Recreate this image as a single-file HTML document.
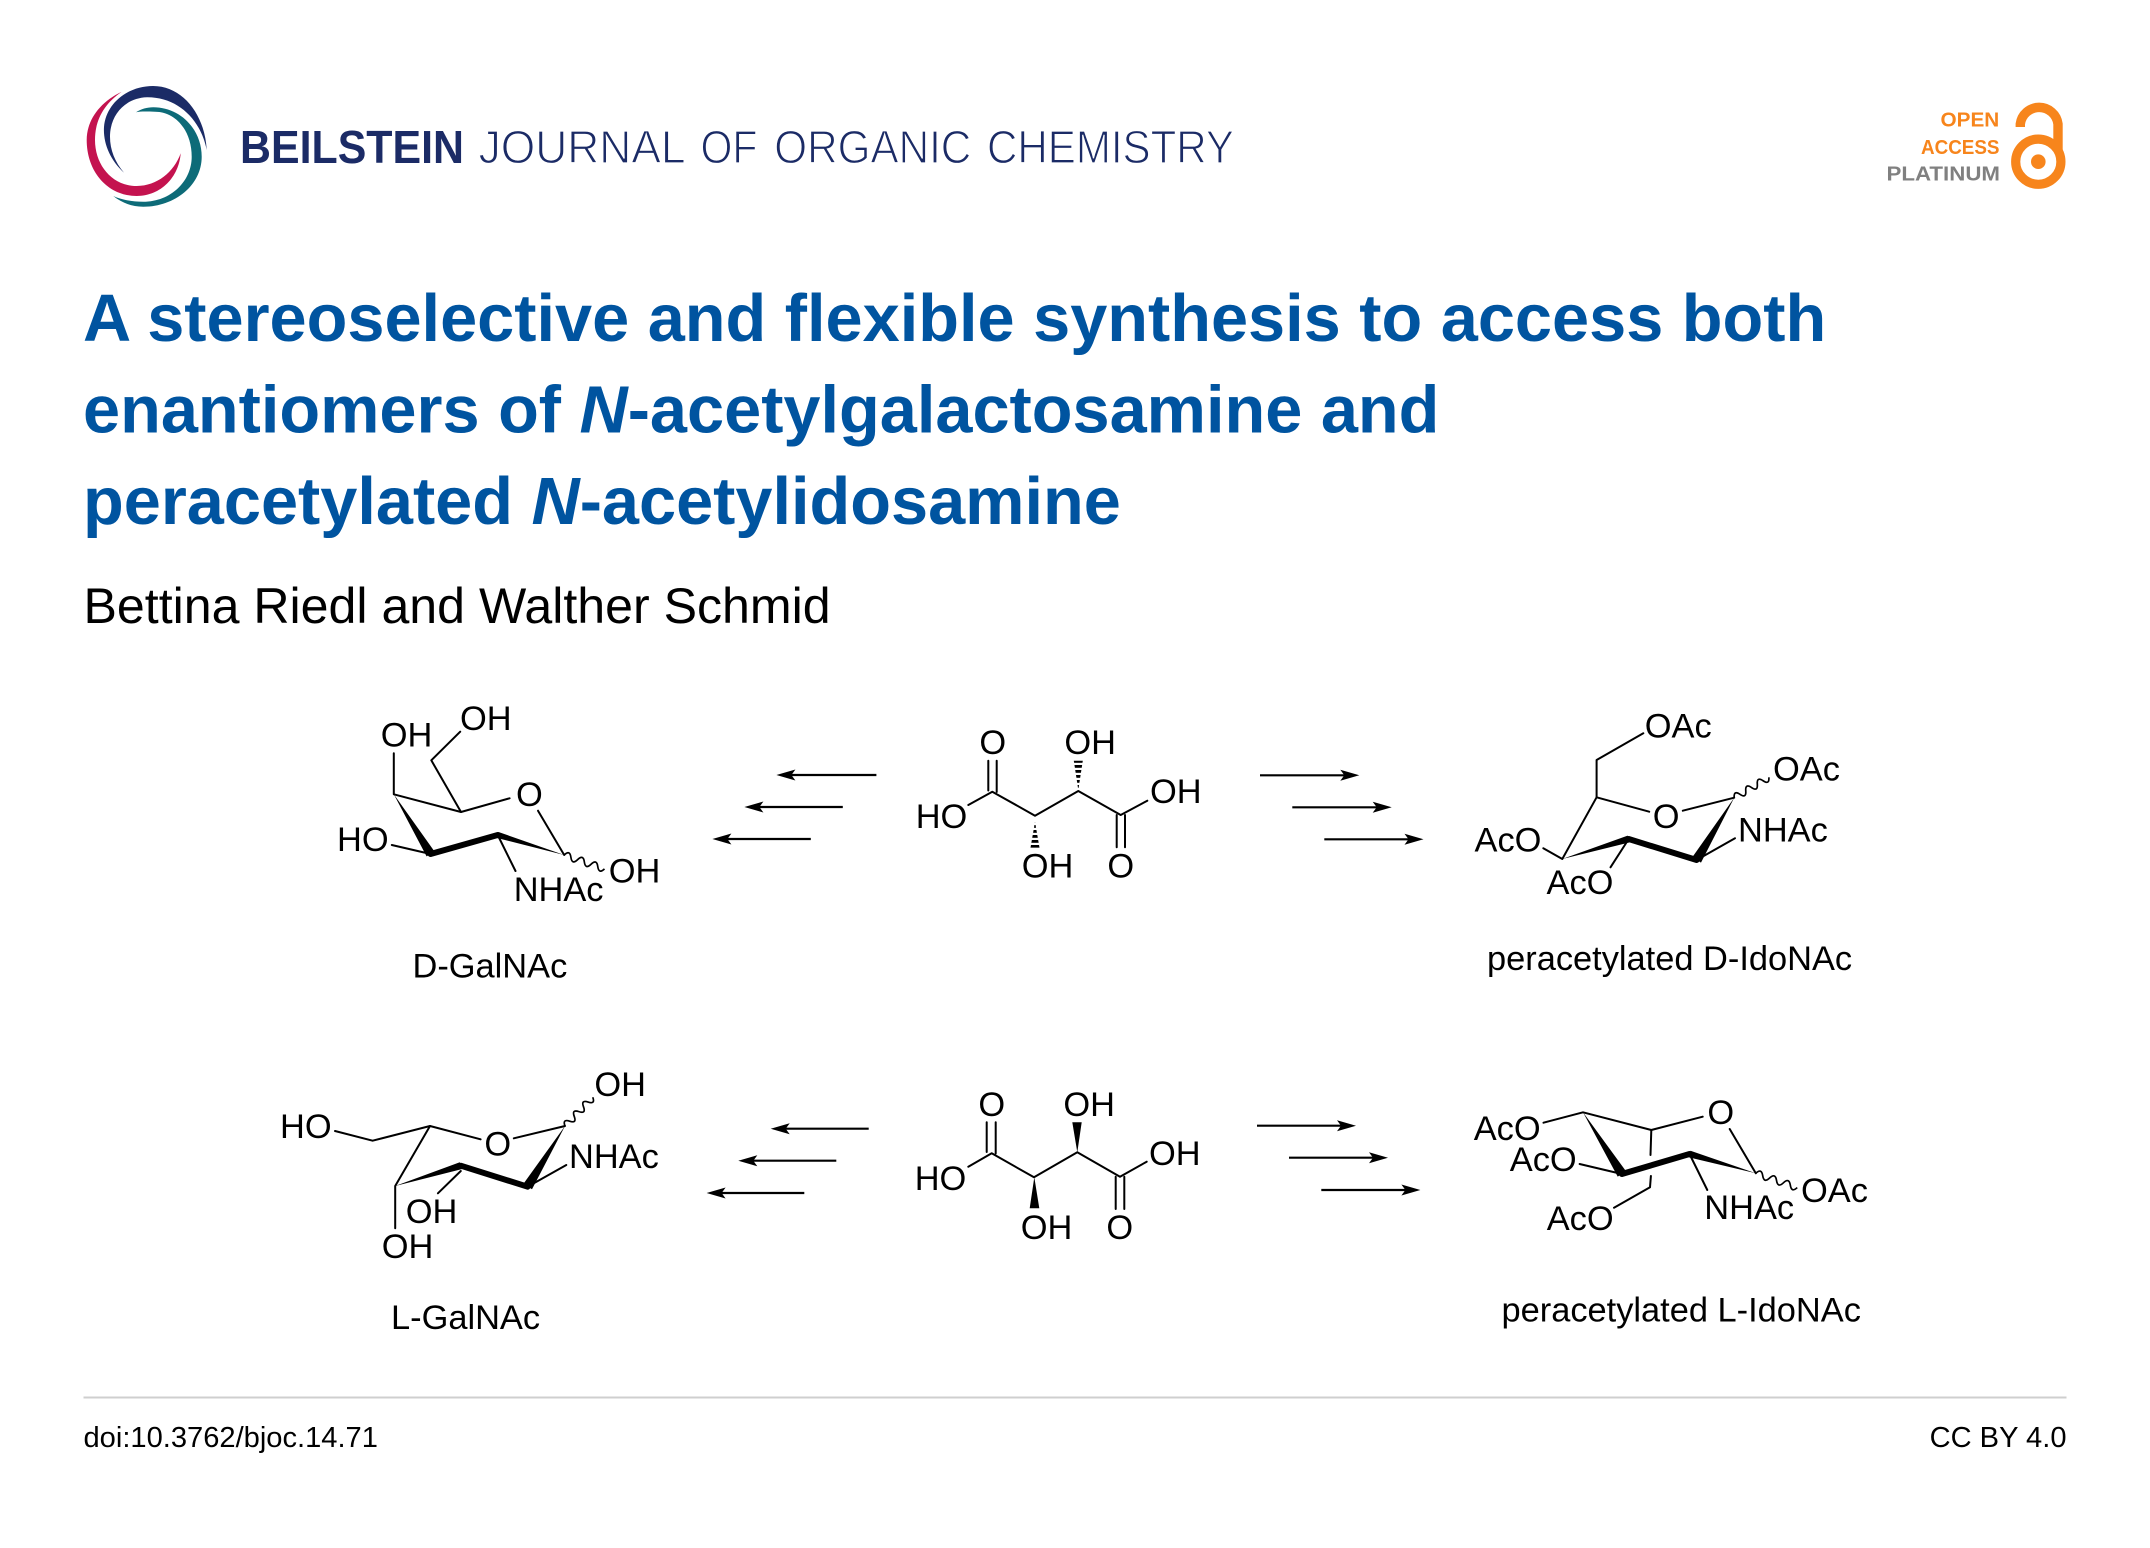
<!DOCTYPE html>
<html><head><meta charset="utf-8"><title>Beilstein J. Org. Chem. graphical abstract</title>
<style>
html,body{margin:0;padding:0;background:#fff;width:2150px;height:1548px;overflow:hidden}
svg{display:block}
text{font-family:"Liberation Sans",Arial,sans-serif}
.l{font-size:34.4px;fill:#000}
.b{stroke:#000;stroke-width:2;fill:none;stroke-linecap:round;stroke-linejoin:round}
.w{stroke:#000;stroke-width:1.7;fill:none}
.t{stroke:#000;stroke-width:6;fill:none;stroke-linecap:round}
.a{stroke:#000;stroke-width:2.2;fill:none}
.title{font-size:66.7px;font-weight:bold;fill:#0054a0}
.j{font-size:46px;fill:#1b2b66;stroke:#fff;stroke-width:1.2}
.oa{font-size:20.5px;font-weight:bold}
</style></head><body>
<svg width="2150" height="1548" viewBox="0 0 2150 1548" xmlns="http://www.w3.org/2000/svg">
<rect width="2150" height="1548" fill="#fff"/>

<!-- logo -->
<path fill="#c4134f" d="M121.7,91.7 C100,102 86.7,120 86.7,140 C86.7,172 108,196 136.7,196 C161,196 179,177 180.7,153.3 C174,172 157,186 136.7,186 C112,186 95,165 95,140 C95,120 104,104 121.7,91.7Z"/>
<path fill="#1b2b66" d="M124,172.7 C110,160 103,143 104,127 C106,103 128,86 153,86 C183,86 205,115 206.7,150 C201,120 178,97 147,97.3 C125,98 110,115 110,136.7 C110,150 115,162 124,172.7Z"/>
<path fill="#0d6b78" d="M136,112.3 C141,109 147,107.3 153.3,107.3 C180,107.3 201.7,129 201.7,156.7 C201.7,185 175,206.7 143.3,206.7 C132,206.7 122,203 113.3,196 C122,200 132,201.7 143.3,201.7 C171,201.7 191.7,181 191.7,156.7 C191.7,131 176,111.7 155,111.7 C148,111.7 142,111 136,112.3Z"/>
<text x="240" y="163" font-size="46" font-weight="bold" fill="#1b2b66" textLength="224" lengthAdjust="spacingAndGlyphs">BEILSTEIN</text>
<text class="j" x="478.6" y="163" textLength="207" lengthAdjust="spacingAndGlyphs">JOURNAL</text>
<text class="j" x="700.5" y="163" textLength="57" lengthAdjust="spacingAndGlyphs">OF</text>
<text class="j" x="774.3" y="163" textLength="197" lengthAdjust="spacingAndGlyphs">ORGANIC</text>
<text class="j" x="987" y="163" textLength="247" lengthAdjust="spacingAndGlyphs">CHEMISTRY</text>

<!-- open access -->
<text class="oa" x="1940.5" y="126.7" fill="#f7851c" textLength="58.8" lengthAdjust="spacingAndGlyphs">OPEN</text>
<text class="oa" x="1921" y="153.9" fill="#f7851c" textLength="78.5" lengthAdjust="spacingAndGlyphs">ACCESS</text>
<text class="oa" x="1886.5" y="180.7" fill="#808080" textLength="113.5" lengthAdjust="spacingAndGlyphs">PLATINUM</text>
<circle cx="2038.3" cy="161.7" r="22.6" fill="none" stroke="#f7851c" stroke-width="9.2"/>
<circle cx="2038.3" cy="161.7" r="7.3" fill="#f7851c"/>
<path d="M2020.3,127 V124 A19,19 0 0 1 2058,124 V150" fill="none" stroke="#f7851c" stroke-width="9.4"/>

<!-- title -->
<text class="title" x="83" y="341">A stereoselective and flexible synthesis to access both</text>
<text class="title" x="83" y="432.5">enantiomers of <tspan font-style="italic">N</tspan>-acetylgalactosamine and</text>
<text class="title" x="83" y="524">peracetylated <tspan font-style="italic">N</tspan>-acetylidosamine</text>
<text x="83.5" y="623" font-size="50.1" fill="#000">Bettina Riedl and Walther Schmid</text>

<!-- D-GalNAc -->
<path class="b" d="M393.8,753.3 V794.3 L461,812 L509.6,798.3"/>
<path class="b" d="M461,812 L431.3,760.3 L460.2,731.7"/>
<path class="b" d="M538,810.7 L564.2,855"/>
<path class="b" d="M430.6,854 L391.8,845"/>
<path class="b" d="M497.7,835 L515.5,871"/>
<polygon points="393.8,794.3 434.6,851.6 426.6,856.4"/>
<polygon points="564.2,855 498.5,832 496.9,838"/>
<path class="t" d="M430.6,854 L497.7,835"/>
<path class="w" transform="translate(564.2,855) rotate(19)" d="M0,0 q3.55,-7 7.1,0 t7.1,0 t7.1,0 t7.1,0 t7.1,0 t7.1,0"/>
<text class="l" x="460" y="730">OH</text>
<text class="l" x="380.7" y="746.5">OH</text>
<text class="l" x="516" y="806">O</text>
<text class="l" x="337" y="851">HO</text>
<text class="l" x="513.7" y="901">NHAc</text>
<text class="l" x="608.8" y="882.5">OH</text>
<text class="l" x="412.5" y="977.5">D-GalNAc</text>

<!-- left arrows row 1 -->
<path class="a" d="M876.4,775 H790"/><polygon points="776.4,775 795.4,769.5 791.4,775 795.4,780.5"/>
<path class="a" d="M842.8,807 H758"/><polygon points="744.4,807 763.4,801.5 759.4,807 763.4,812.5"/>
<path class="a" d="M810.8,839 H726"/><polygon points="712.4,839 731.4,833.5 727.4,839 731.4,844.5"/>

<!-- tartaric acid 1 -->
<path class="b" d="M968.3,805 L992.3,791.7 L1035,815.7 L1078.3,791 L1120.7,815 L1147.3,800.7"/>
<path class="b" d="M988.3,790.5 V760.7 M996.7,792 V760.7"/>
<path class="b" d="M1116.7,815 V847.3 M1125,815 V847.3"/>
<polygon points="1078.3,790 1073.8,760.7 1082.8,760.7" fill="url(#h1)"/>
<polygon points="1035,821.7 1030.5,847.7 1039.5,847.7" fill="url(#h1)"/>
<text class="l" x="979.4" y="754">O</text>
<text class="l" x="1064.4" y="754">OH</text>
<text class="l" x="915.7" y="828">HO</text>
<text class="l" x="1150" y="803">OH</text>
<text class="l" x="1021.7" y="877.5">OH</text>
<text class="l" x="1107.4" y="877.5">O</text>
<defs><pattern id="h1" width="4" height="5" patternUnits="userSpaceOnUse"><rect width="4" height="2.8" fill="#000"/></pattern></defs>

<!-- right arrows row 1 -->
<path class="a" d="M1260,775.3 H1345"/><polygon points="1359.3,775.3 1340.3,769.8 1344.3,775.3 1340.3,780.8"/>
<path class="a" d="M1292.3,807.3 H1378"/><polygon points="1391.7,807.3 1372.7,801.8 1376.7,807.3 1372.7,812.8"/>
<path class="a" d="M1324.3,839.3 H1410"/><polygon points="1423.5,839.3 1404.5,833.8 1408.5,839.3 1404.5,844.8"/>

<!-- peracetylated D-IdoNAc -->
<path class="b" d="M1643.3,733.3 L1596.6,760 V797.3 L1649.2,811.7"/>
<path class="b" d="M1596.6,797.3 L1562.3,859 L1543.3,848.3"/>
<path class="b" d="M1682.8,810.7 L1734.2,797.7"/>
<path class="b" d="M1696.6,860 L1735,838.3"/>
<path class="b" d="M1628.7,839 L1610.5,867.3"/>
<polygon points="1562.3,859 1627.7,835.6 1629.7,842.4"/>
<polygon points="1734.2,797.7 1701,862.6 1692.2,857.4"/>
<path class="t" d="M1628.7,839 L1696.6,860"/>
<path class="w" transform="translate(1734.2,797.7) rotate(-30.4)" d="M0,0 q3.35,-7 6.7,0 t6.7,0 t6.7,0 t6.7,0 t6.7,0 t6.7,0"/>
<text class="l" x="1644.8" y="737.5">OAc</text>
<text class="l" x="1773" y="780.5">OAc</text>
<text class="l" x="1738" y="841.5">NHAc</text>
<text class="l" x="1474.5" y="851.5">AcO</text>
<text class="l" x="1546.5" y="894">AcO</text>
<text class="l" x="1652.7" y="828">O</text>
<text class="l" x="1487" y="970">peracetylated D-IdoNAc</text>

<!-- L-GalNAc -->
<path class="b" d="M335,1131 L372.6,1140.7 L430,1126 L480.6,1139.3"/>
<path class="b" d="M430,1126 L395.2,1186 V1228.3"/>
<path class="b" d="M513.8,1138.3 L565,1126"/>
<path class="b" d="M527.6,1186.7 L566.3,1165"/>
<path class="b" d="M460.8,1171 L437.9,1193.3"/>
<polygon points="395.2,1186 459.8,1162.3 461.8,1169.1"/>
<polygon points="565,1126 532,1189.3 523.2,1184.1"/>
<path class="t" d="M460.8,1165.7 L527.6,1186.7"/>
<path class="w" transform="translate(565,1126) rotate(-46)" d="M0,0 q3.33,-7 6.66,0 t6.66,0 t6.66,0 t6.66,0 t6.66,0 t6.66,0"/>
<text class="l" x="280" y="1138">HO</text>
<text class="l" x="484.4" y="1155.5">O</text>
<text class="l" x="594.4" y="1096">OH</text>
<text class="l" x="569" y="1168">NHAc</text>
<text class="l" x="405.8" y="1223">OH</text>
<text class="l" x="381.7" y="1258">OH</text>
<text class="l" x="391" y="1329">L-GalNAc</text>

<!-- left arrows row 2 -->
<path class="a" d="M868.7,1128.7 H784"/><polygon points="770.7,1128.7 789.7,1123.2 785.7,1128.7 789.7,1134.2"/>
<path class="a" d="M836.3,1160.7 H752"/><polygon points="738.3,1160.7 757.3,1155.2 753.3,1160.7 757.3,1166.2"/>
<path class="a" d="M804.3,1193 H720"/><polygon points="706.6,1193 725.6,1187.5 721.6,1193 725.6,1198.5"/>

<!-- tartaric acid 2 -->
<path class="b" d="M968.3,1166.7 L991.7,1153.3 L1034,1177.3 L1077.3,1152.3 L1120,1176.7 L1146.7,1161.7"/>
<path class="b" d="M986.7,1152 V1122.3 M995.7,1153.5 V1122.3"/>
<path class="b" d="M1115.7,1176.7 V1209 M1124.3,1176.7 V1209"/>
<polygon points="1077.3,1152.3 1072.3,1122.3 1081.7,1122.3"/>
<polygon points="1034.3,1177.3 1029.7,1208.3 1039.3,1208.3"/>
<text class="l" x="978.4" y="1116">O</text>
<text class="l" x="1063.4" y="1116">OH</text>
<text class="l" x="914.7" y="1190">HO</text>
<text class="l" x="1149" y="1165">OH</text>
<text class="l" x="1020.7" y="1239">OH</text>
<text class="l" x="1106.4" y="1239">O</text>

<!-- right arrows row 2 -->
<path class="a" d="M1257,1125.7 H1342"/><polygon points="1356,1125.7 1337,1120.2 1341,1125.7 1337,1131.2"/>
<path class="a" d="M1289,1157.7 H1374"/><polygon points="1388,1157.7 1369,1152.2 1373,1157.7 1369,1163.2"/>
<path class="a" d="M1321.3,1190 H1406"/><polygon points="1420.4,1190 1401.4,1184.5 1405.4,1190 1401.4,1195.5"/>

<!-- peracetylated L-IdoNAc -->
<path class="b" d="M1543.5,1122.7 L1583,1112.3 L1651.3,1130 L1702.7,1116.7"/>
<path class="b" d="M1729.7,1129 L1755.8,1173.3"/>
<path class="b" d="M1579.6,1164 L1621.9,1174"/>
<path class="b" d="M1689.5,1154 L1707.3,1190"/>
<path class="b" d="M1651.3,1130 L1650.5,1155 M1650.9,1176 L1650,1187.3 L1614,1207.7"/>
<polygon points="1583,1112.3 1626.1,1171.4 1617.7,1176.6"/>
<polygon points="1755.8,1173.3 1690.5,1150.7 1688.5,1157.3"/>
<path class="t" d="M1621.9,1174 L1689.5,1154"/>
<path class="w" transform="translate(1755.8,1173.3) rotate(19)" d="M0,0 q3.65,-7 7.3,0 t7.3,0 t7.3,0 t7.3,0 t7.3,0 t7.3,0"/>
<text class="l" x="1473.7" y="1140">AcO</text>
<text class="l" x="1509.8" y="1171">AcO</text>
<text class="l" x="1546.7" y="1230">AcO</text>
<text class="l" x="1707.4" y="1124">O</text>
<text class="l" x="1801" y="1202">OAc</text>
<text class="l" x="1704.3" y="1219">NHAc</text>
<text class="l" x="1501.5" y="1321.5">peracetylated L-IdoNAc</text>

<!-- footer -->
<rect x="83.5" y="1396.5" width="1983" height="2" fill="#cfcfcf"/>
<text x="83.5" y="1447" font-size="29.1" fill="#000">doi:10.3762/bjoc.14.71</text>
<text x="2066.5" y="1447" font-size="29.1" fill="#000" text-anchor="end">CC BY 4.0</text>
</svg>
</body></html>
